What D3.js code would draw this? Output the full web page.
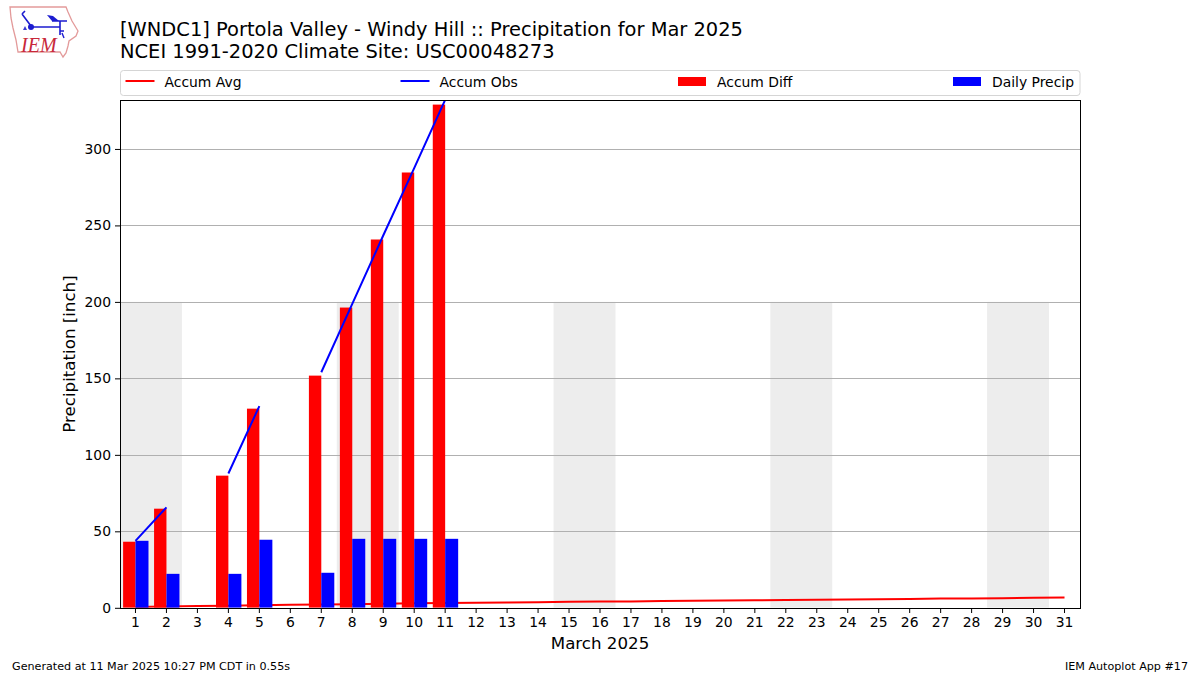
<!DOCTYPE html>
<html>

<head>
  <meta charset="utf-8">
  <script src="https://d3js.org/d3.v7.min.js"></script>
  <style>
    html, body {
      margin: 0;
      padding: 0;
      background: #fff;
    }

    svg {
      display: block;
    }

    text {
      font-family: 'DejaVu Sans', sans-serif;
      fill: #000;
    }
  </style>
</head>

<body>
  <svg width="1200" height="675"></svg>
</body>
<script>

  // values, null = no obs that day
  var days = d3.range(1, 32);
  var weekends = [[1, 2], [8, 9], [15, 16], [22, 23], [29, 30]];
  var weekendTop = 200;
  var accumAvg = [0.5, 0.9, 1.2, 1.4, 1.7, 2.0, 2.2, 2.4, 2.6, 2.9, 3.1, 3.3, 3.5, 3.7, 3.9, 4.1, 4.2, 4.4, 4.6, 4.7,
    4.9, 5.1, 5.3, 5.5, 5.6, 5.8, 6.0, 6.1, 6.3, 6.5, 6.7];
  var accumObs = [43.8, 65.7, null, 87.8, 131.9, null, 154.0, 198.7, 243.4, 287.5, 332.1];
  var accumDiff = [43.2, 64.8, null, 86.4, 130.2, null, 151.8, 196.3, 240.8, 284.6, 329.0];
  var dailyPrecip = [43.8, 22.2, null, 22.2, 44.5, null, 22.9, 45.1, 45.1, 45.1, 45.1];
  var yTicks = [0, 50, 100, 150, 200, 250, 300];

  var svg = d3.select("svg");
  var left = 120, right = 1080, top_ = 100, bottom = 607.8;

  var x = d3.scaleLinear().domain([0.5, 31.5]).range([left, right]);
  var y = d3.scaleLinear().domain([0, 332]).range([bottom, top_]);

  svg.append("clipPath").attr("id", "plot")
    .append("rect").attr("x", left).attr("y", top_).attr("width", right - left).attr("height", bottom - top_);

  var plot = svg.append("g").attr("clip-path", "url(#plot)");

  // weekend shading
  plot.append("g").selectAll("rect").data(weekends).enter().append("rect")
    .attr("x", function (d) { return x(d[0] - 0.5); })
    .attr("width", function (d) { return x(d[1] + 0.5) - x(d[0] - 0.5); })
    .attr("y", y(weekendTop))
    .attr("height", y(0) - y(weekendTop))
    .attr("fill", "#ededed");

  // grid
  plot.append("g").selectAll("line").data(yTicks).enter().append("line")
    .attr("x1", left).attr("x2", right)
    .attr("y1", function (d) { return Math.round(y(d)) + 0.5; })
    .attr("y2", function (d) { return Math.round(y(d)) + 0.5; })
    .attr("stroke", "#b0b0b0").attr("stroke-width", 1);

  var line = function (values) {
    return d3.line()
      .defined(function (d) { return d !== null; })
      .x(function (d, i) { return x(days[i]); })
      .y(function (d) { return y(d); })(values);
  };

  plot.append("path").attr("d", line(accumAvg))
    .attr("fill", "none").attr("stroke", "#f00").attr("stroke-width", 2);

  // bars, red sits left of the day and blue right
  plot.append("g").selectAll("rect").data(accumDiff.map(function (d, i) { return { day: days[i], v: d }; })).enter()
    .filter(function (d) { return d.v !== null; })
    .append("rect")
    .attr("x", function (d) { return x(d.day - 0.4); })
    .attr("width", x(1) - x(0.6))
    .attr("y", function (d) { return y(d.v); })
    .attr("height", function (d) { return y(0) - y(d.v); })
    .attr("fill", "#f00");

  plot.append("g").selectAll("rect").data(dailyPrecip.map(function (d, i) { return { day: days[i], v: d }; })).enter()
    .filter(function (d) { return d.v !== null; })
    .append("rect")
    .attr("x", function (d) { return x(d.day); })
    .attr("width", x(1.42) - x(1))
    .attr("y", function (d) { return y(d.v); })
    .attr("height", function (d) { return y(0) - y(d.v); })
    .attr("fill", "#00f");

  plot.append("path").attr("d", line(accumObs))
    .attr("fill", "none").attr("stroke", "#00f").attr("stroke-width", 2);

  // axes
  var xAxis = svg.append("g").attr("transform", "translate(0,608)")
    .call(d3.axisBottom(x).tickValues(days).tickFormat(d3.format("d")).tickSize(5).tickPadding(4).offset(0));
  var yAxis = svg.append("g").attr("transform", "translate(120,0.5)")
    .call(d3.axisLeft(y).tickValues(yTicks).tickSize(5).tickPadding(4).offset(0));
  xAxis.select(".domain").remove();
  yAxis.select(".domain").remove();
  svg.selectAll(".tick text").attr("font-size", 13.9).attr("font-family", "'DejaVu Sans', sans-serif");
  svg.selectAll(".tick line").attr("stroke", "#000");

  svg.append("rect").attr("x", 120.5).attr("y", 100.5).attr("width", 960).attr("height", 508)
    .attr("fill", "none").attr("stroke", "#000").attr("stroke-width", 1);

  svg.append("text").attr("x", 600).attr("y", 649).attr("text-anchor", "middle").attr("font-size", 16.67).text("March 2025");
  svg.append("text").attr("transform", "translate(74.5,354) rotate(-90)").attr("text-anchor", "middle")
    .attr("font-size", 16.67).text("Precipitation [inch]");

  // titles
  svg.append("text").attr("x", 120).attr("y", 36).attr("font-size", 19.44)
    .text("[WNDC1] Portola Valley - Windy Hill :: Precipitation for Mar 2025");
  svg.append("text").attr("x", 120).attr("y", 58).attr("font-size", 19.44)
    .text("NCEI 1991-2020 Climate Site: USC00048273");

  // legend
  svg.append("rect").attr("x", 120.5).attr("y", 70.5).attr("width", 959.5).attr("height", 25).attr("rx", 3)
    .attr("fill", "#fff").attr("stroke", "#d5d5d5").attr("stroke-width", 1);
  var legendItems = [
    { label: "Accum Avg", color: "#f00", kind: "line", x0: 125.5 },
    { label: "Accum Obs", color: "#00f", kind: "line", x0: 400.5 },
    { label: "Accum Diff", color: "#f00", kind: "bar", x0: 678 },
    { label: "Daily Precip", color: "#00f", kind: "bar", x0: 953 }
  ];
  legendItems.forEach(function (d) {
    if (d.kind === "line") {
      svg.append("line").attr("x1", d.x0).attr("x2", d.x0 + 29).attr("y1", 81).attr("y2", 81)
        .attr("stroke", d.color).attr("stroke-width", 2);
    } else {
      svg.append("rect").attr("x", d.x0).attr("y", 77).attr("width", 28).attr("height", 9).attr("fill", d.color);
    }
    svg.append("text").attr("x", d.x0 + 39).attr("y", 86.5).attr("font-size", 13.9).text(d.label);
  });

  // footer
  svg.append("text").attr("x", 12).attr("y", 670).attr("font-size", 11.15).text("Generated at 11 Mar 2025 10:27 PM CDT in 0.55s");
  svg.append("text").attr("x", 1188).attr("y", 670).attr("text-anchor", "end").attr("font-size", 11.15).text("IEM Autoplot App #17");

  // IEM logo
  var logo = svg.append("g");
  logo.append("path")
    .attr("d", "M10,7 L66,7 L68,12 L72,21 L78,31 L76,36 L69,41 L68,46 L66,53 L63,57 L60,52 L18,52 L16,40 L13,28 L11,18 Z")
    .attr("fill", "none").attr("stroke", "#e39a9a").attr("stroke-width", 1.3);
  logo.append("path").attr("d", "M31,27 L60,27 M31,26 L22,14 M22,14 L25,11 M60,21 L60,35 M52,21 L67,21 M60,31 L64,31")
    .attr("fill", "none").attr("stroke", "#1c1cd0").attr("stroke-width", 1.6);
  logo.append("path").attr("d", "M47,15 L53,16 L59,21 L52,21 Z").attr("fill", "#1c1cd0");
  logo.append("circle").attr("cx", 31).attr("cy", 27).attr("r", 3).attr("fill", "#1c1cd0");
  logo.append("path").attr("d", "M23,30 L25,26 L27,30 Z").attr("fill", "#3a3ad0");
  logo.append("path").attr("d", "M62,33 L64,38").attr("stroke", "#1c1cd0").attr("stroke-width", 1.4);
  logo.append("text").attr("x", 21).attr("y", 52).attr("font-size", 20)
    .attr("font-style", "italic").style("font-family", "'Liberation Serif', serif").style("fill", "#c8283a").text("IEM");

</script>

</html>
